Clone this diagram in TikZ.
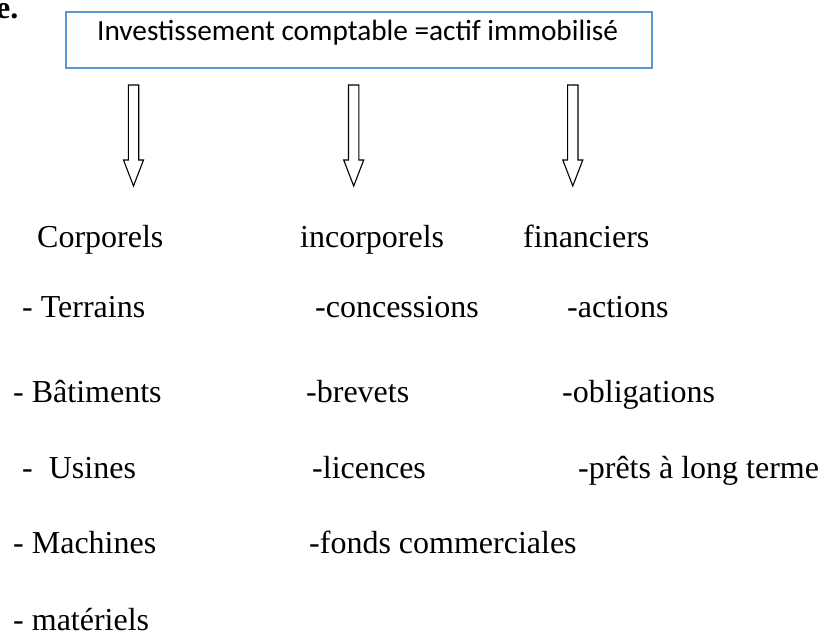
\documentclass[tikz,border=0pt]{standalone}
\usepackage{fontspec}
\setmainfont{Liberation Serif}
\newfontfamily\boxfont{Carlito}
\definecolor{boxblue}{RGB}{91,155,213}
\newcommand{\hollowdown}[2]{% #1 = center x, #2 = name
  \coordinate (#2) at (#1,85);
  \draw[arrowline] (#1-5.2,85) -- (#1+5.2,85) -- (#1+5.2,160) -- (#1+10,160)
     -- (#1,186) -- (#1-10,160) -- (#1-5.2,160) -- cycle;}
\begin{document}
\begin{tikzpicture}[x=1pt,y=-1pt,
  txt/.style={anchor=base west,inner sep=0pt,font=\fontsize{32}{38}\selectfont},
  arrowline/.style={draw=black,line width=1.1pt,fill=white,line join=miter},
  topbox/.style={draw=boxblue,line width=2pt,inner sep=0pt,anchor=north west,
     minimum width=586pt,minimum height=56pt}]
\useasboundingbox (0,0) rectangle (821,635);
\clip (0,0) rectangle (821,635);
\fill[white] (0,0) rectangle (821,635);
\node[txt,font=\fontsize{32}{38}\selectfont\bfseries] (e) at (-4,18) {e.};
\node[topbox] (box) at (65,11) {};
\node[anchor=base west,inner sep=0pt,font=\boxfont\fontsize{29.3}{34}\selectfont] (boxt) at (97,40)
  {Investissement comptable =actif immobilisé};
\hollowdown{133.5}{a1}
\hollowdown{353.7}{a2}
\hollowdown{572.8}{a3}
\node[txt] (c1) at (37,247) {Corporels};
\node[txt] (c2) at (300,247) {incorporels};
\node[txt] (c3) at (523,247) {financiers};
\node[txt] (t1) at (22,317) {- Terrains};
\node[txt] (t2) at (315,317) {-concessions};
\node[txt] (t3) at (567,317) {-actions};
\node[txt] (b1) at (13,402) {- Bâtiments};
\node[txt] (b2) at (306,402) {-brevets};
\node[txt] (b3) at (562,402) {-obligations};
\node[txt] (u1) at (22,478) {-\hspace{0.5em}Usines};
\node[txt] (u2) at (312,478) {-licences};
\node[txt] (u3) at (578,478) {-prêts à long terme};
\node[txt] (m1) at (13,553) {- Machines};
\node[txt] (m2) at (309,553) {-fonds commerciales};
\node[txt] (r1) at (13,630) {- matériels};
\end{tikzpicture}
\end{document}
